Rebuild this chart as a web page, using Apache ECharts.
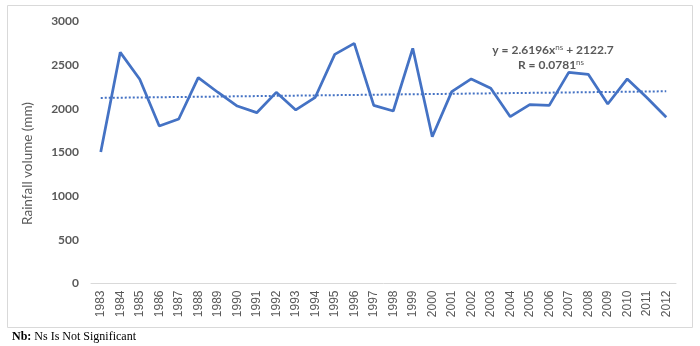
<!DOCTYPE html>
<html><head><meta charset="utf-8">
<script src="https://cdn.jsdelivr.net/npm/echarts@6/dist/echarts.min.js"></script>
<style>html,body{margin:0;padding:0;background:#fff}#c{width:700px;height:346px}</style>
</head><body><div id="c"></div>
<script>
const years = ['1983','1984','1985','1986','1987','1988','1989','1990','1991','1992','1993','1994','1995','1996','1997','1998','1999','2000','2001','2002','2003','2004','2005','2006','2007','2008','2009','2010','2011','2012'];
const rainfall = [1506,2647,2338,1803,1884,2357,2190,2032,1956,2189,1987,2132,2624,2750,2040,1975,2693,1681,2197,2342,2235,1910,2048,2040,2418,2395,2055,2342,2130,1903];
const trendEnds = [2125, 2201];
const yTicks = [0, 500, 1000, 1500, 2000, 2500, 3000];

const trend = years.map((y, i) => i === 0 ? trendEnds[0] : (i === years.length - 1 ? trendEnds[1] : null));

const chart = echarts.init(document.getElementById('c'), null, {renderer: 'canvas'});
chart.setOption({
  animation: false,
  grid: {left: 91, right: 24, top: 21.5, bottom: 62.5},
  xAxis: {
    type: 'category', data: years, boundaryGap: true,
    axisLine: {show: true, lineStyle: {color: '#d9d9d9', width: 1}},
    axisTick: {show: false},
    axisLabel: {rotate: 90, color: '#595959', fontSize: 12, fontFamily: 'Liberation Sans, Arial', margin: 7, interval: 0}
  },
  yAxis: {
    type: 'value', min: yTicks[0], max: yTicks[yTicks.length - 1], interval: 500,
    name: 'Rainfall volume (mm)', nameLocation: 'middle', nameGap: 56, nameRotate: 90,
    nameTextStyle: {color: '#595959', fontSize: 13.5, fontFamily: 'Lato, Liberation Sans', padding: [0, 22, 0, 0]},
    axisLine: {show: false}, axisTick: {show: false}, splitLine: {show: false},
    axisLabel: {color: '#595959', fontSize: 12, fontWeight: 'bold', fontFamily: 'Lato, Liberation Sans', margin: 12,
                formatter: v => String(v)}
  },
  series: [
    {type: 'line', data: rainfall, showSymbol: false, symbol: 'none',
     lineStyle: {color: '#4472C4', width: 2.75}, z: 3},
    {type: 'line', data: trend, connectNulls: true, showSymbol: false, symbol: 'none',
     lineStyle: {color: '#4472C4', width: 2, type: [2, 2]}, z: 2}
  ],
  graphic: [
    {type: 'rect', shape: {x: 7.5, y: 5.5, width: 685, height: 322}, style: {fill: 'none', stroke: '#d9d9d9', lineWidth: 1}, z: -1},
    {type: 'text', x: 553, y: 50, style: {
      text: '{b|y = 2.6196x}{s|ns}{b| + 2122.7}', align: 'center', verticalAlign: 'middle',
      rich: {b: {fontSize: 12, fontWeight: 'bold', fill: '#595959', fontFamily: 'Lato, Liberation Sans'},
             s: {fontSize: 8, fill: '#595959', fontFamily: 'Lato, Liberation Sans', verticalAlign: 'top', padding: [0,0,6,0]}}
    }},
    {type: 'text', x: 551, y: 65, style: {
      text: '{b|R = 0.0781}{s|ns}', align: 'center', verticalAlign: 'middle',
      rich: {b: {fontSize: 12, fontWeight: 'bold', fill: '#595959', fontFamily: 'Lato, Liberation Sans'},
             s: {fontSize: 8, fill: '#595959', fontFamily: 'Lato, Liberation Sans', verticalAlign: 'top', padding: [0,0,6,0]}}
    }},
    {type: 'text', x: 12, y: 337, style: {
      text: '{b|Nb:}{n| Ns Is Not Significant}', verticalAlign: 'middle',
      rich: {b: {fontSize: 12, fontWeight: 'bold', fill: '#000', fontFamily: 'Liberation Serif, Times New Roman'},
             n: {fontSize: 12, fill: '#000', fontFamily: 'Liberation Serif, Times New Roman'}}
    }}
  ]
});
</script></body></html>
